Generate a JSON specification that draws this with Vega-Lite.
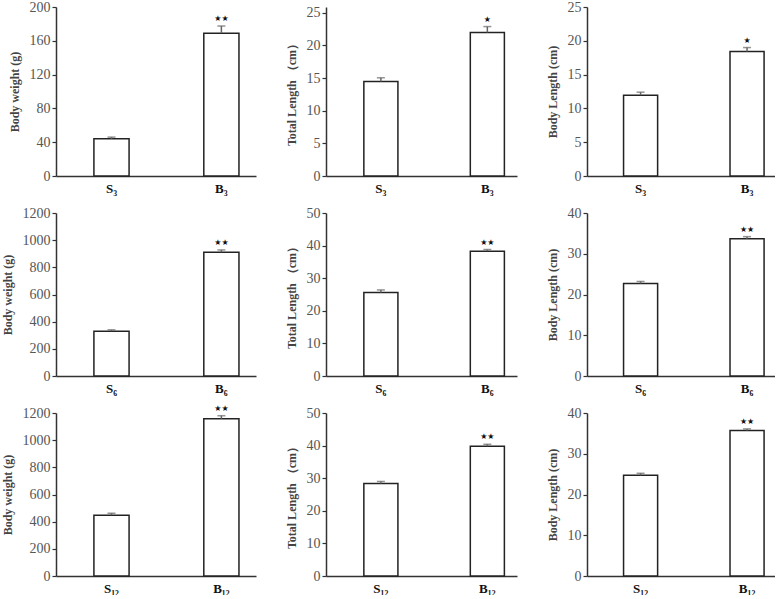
{
  "$schema": "https://vega.github.io/schema/vega-lite/v6.json",
  "padding": {"left": 1, "top": 0, "right": 0, "bottom": 0},
  "background": "white",
  "datasets": {
    "d": [
      {"p": 1, "g": "S₃", "v": 44, "hi": 46, "s": ""},
      {"p": 1, "g": "B₃", "v": 169, "hi": 177.5, "s": "★★"},
      {"p": 2, "g": "S₃", "v": 14.5, "hi": 15.05, "s": ""},
      {"p": 2, "g": "B₃", "v": 22.0, "hi": 22.9, "s": "★"},
      {"p": 3, "g": "S₃", "v": 11.95, "hi": 12.4, "s": ""},
      {"p": 3, "g": "B₃", "v": 18.4, "hi": 19.0, "s": "★"},
      {"p": 4, "g": "S₆", "v": 330, "hi": 340, "s": ""},
      {"p": 4, "g": "B₆", "v": 911, "hi": 928, "s": "★★"},
      {"p": 5, "g": "S₆", "v": 25.6, "hi": 26.4, "s": ""},
      {"p": 5, "g": "B₆", "v": 38.3, "hi": 38.8, "s": "★★"},
      {"p": 6, "g": "S₆", "v": 22.7, "hi": 23.2, "s": ""},
      {"p": 6, "g": "B₆", "v": 33.7, "hi": 34.2, "s": "★★"},
      {"p": 7, "g": "S₁₂", "v": 448, "hi": 462, "s": ""},
      {"p": 7, "g": "B₁₂", "v": 1158, "hi": 1180, "s": "★★"},
      {"p": 8, "g": "S₁₂", "v": 28.4, "hi": 29.0, "s": ""},
      {"p": 8, "g": "B₁₂", "v": 39.8, "hi": 40.4, "s": "★★"},
      {"p": 9, "g": "S₁₂", "v": 24.7, "hi": 25.2, "s": ""},
      {"p": 9, "g": "B₁₂", "v": 35.7, "hi": 36.1, "s": "★★"}
    ]
  },
  "columns": 3,
  "bounds": "flush",
  "spacing": {"row": 37, "column": 70},
  "concat": [
    {
      "width": 200, "height": 169,
      "data": {"name": "d"},
      "transform": [{"filter": "datum.p == 1"}],
      "encoding": {"x": {"field": "g", "type": "nominal", "sort": null, "title": null, "scale": {"paddingInner": 0.68, "paddingOuter": 0.25, "align": 0.69}}},
      "layer": [
        {"mark": {"type": "bar", "fill": "white", "stroke": "#222", "strokeWidth": 1.5}, "encoding": {"y": {"field": "v", "type": "quantitative", "title": "Body weight (g)", "scale": {"domain": [0, 200], "nice": false}, "axis": {"values": [0, 40, 80, 120, 160, 200]}}}},
        {"mark": {"type": "rule", "color": "#666", "strokeWidth": 1.5}, "encoding": {"y": {"field": "v", "type": "quantitative", "title": "Body weight (g)", "axis": {"values": [0, 40, 80, 120, 160, 200]}}, "y2": {"field": "hi"}}},
        {"mark": {"type": "tick", "orient": "horizontal", "size": 8, "thickness": 1.5, "color": "#666"}, "encoding": {"y": {"field": "hi", "type": "quantitative", "title": "Body weight (g)", "axis": {"values": [0, 40, 80, 120, 160, 200]}}}},
        {"mark": {"type": "text", "font": "DejaVu Sans", "fontSize": 8, "baseline": "bottom", "dy": -3, "color": "#111"}, "encoding": {"y": {"field": "hi", "type": "quantitative", "title": "Body weight (g)", "axis": {"values": [0, 40, 80, 120, 160, 200]}}, "text": {"field": "s"}}}
      ]
    },
    {
      "width": 191, "height": 169,
      "data": {"name": "d"},
      "transform": [{"filter": "datum.p == 2"}],
      "encoding": {"x": {"field": "g", "type": "nominal", "sort": null, "title": null, "scale": {"paddingInner": 0.68, "paddingOuter": 0.237, "align": 0.75}}},
      "layer": [
        {"mark": {"type": "bar", "fill": "white", "stroke": "#222", "strokeWidth": 1.5}, "encoding": {"y": {"field": "v", "type": "quantitative", "title": "Total Length （cm）", "scale": {"domain": [0, 25.9], "nice": false}, "axis": {"values": [0, 5, 10, 15, 20, 25]}}}},
        {"mark": {"type": "rule", "color": "#666", "strokeWidth": 1.5}, "encoding": {"y": {"field": "v", "type": "quantitative", "title": "Total Length （cm）", "axis": {"values": [0, 5, 10, 15, 20, 25]}}, "y2": {"field": "hi"}}},
        {"mark": {"type": "tick", "orient": "horizontal", "size": 8, "thickness": 1.5, "color": "#666"}, "encoding": {"y": {"field": "hi", "type": "quantitative", "title": "Total Length （cm）", "axis": {"values": [0, 5, 10, 15, 20, 25]}}}},
        {"mark": {"type": "text", "font": "DejaVu Sans", "fontSize": 8, "baseline": "bottom", "dy": -3, "color": "#111"}, "encoding": {"y": {"field": "hi", "type": "quantitative", "title": "Total Length （cm）", "axis": {"values": [0, 5, 10, 15, 20, 25]}}, "text": {"field": "s"}}}
      ]
    },
    {
      "width": 188, "height": 169,
      "data": {"name": "d"},
      "transform": [{"filter": "datum.p == 3"}],
      "encoding": {"x": {"field": "g", "type": "nominal", "sort": null, "title": null, "scale": {"paddingInner": 0.68, "paddingOuter": 0.223, "align": 0.77}}},
      "layer": [
        {"mark": {"type": "bar", "fill": "white", "stroke": "#222", "strokeWidth": 1.5}, "encoding": {"y": {"field": "v", "type": "quantitative", "title": "Body Length (cm)", "scale": {"domain": [0, 25], "nice": false}, "axis": {"values": [0, 5, 10, 15, 20, 25]}}}},
        {"mark": {"type": "rule", "color": "#666", "strokeWidth": 1.5}, "encoding": {"y": {"field": "v", "type": "quantitative", "title": "Body Length (cm)", "axis": {"values": [0, 5, 10, 15, 20, 25]}}, "y2": {"field": "hi"}}},
        {"mark": {"type": "tick", "orient": "horizontal", "size": 8, "thickness": 1.5, "color": "#666"}, "encoding": {"y": {"field": "hi", "type": "quantitative", "title": "Body Length (cm)", "axis": {"values": [0, 5, 10, 15, 20, 25]}}}},
        {"mark": {"type": "text", "font": "DejaVu Sans", "fontSize": 8, "baseline": "bottom", "dy": -3, "color": "#111"}, "encoding": {"y": {"field": "hi", "type": "quantitative", "title": "Body Length (cm)", "axis": {"values": [0, 5, 10, 15, 20, 25]}}, "text": {"field": "s"}}}
      ]
    },
    {
      "width": 200, "height": 163,
      "data": {"name": "d"},
      "transform": [{"filter": "datum.p == 4"}],
      "encoding": {"x": {"field": "g", "type": "nominal", "sort": null, "title": null, "scale": {"paddingInner": 0.68, "paddingOuter": 0.25, "align": 0.69}}},
      "layer": [
        {"mark": {"type": "bar", "fill": "white", "stroke": "#222", "strokeWidth": 1.5}, "encoding": {"y": {"field": "v", "type": "quantitative", "title": "Body weight (g)", "scale": {"domain": [0, 1200], "nice": false}, "axis": {"values": [0, 200, 400, 600, 800, 1000, 1200]}}}},
        {"mark": {"type": "rule", "color": "#666", "strokeWidth": 1.5}, "encoding": {"y": {"field": "v", "type": "quantitative", "title": "Body weight (g)", "axis": {"values": [0, 200, 400, 600, 800, 1000, 1200]}}, "y2": {"field": "hi"}}},
        {"mark": {"type": "tick", "orient": "horizontal", "size": 8, "thickness": 1.5, "color": "#666"}, "encoding": {"y": {"field": "hi", "type": "quantitative", "title": "Body weight (g)", "axis": {"values": [0, 200, 400, 600, 800, 1000, 1200]}}}},
        {"mark": {"type": "text", "font": "DejaVu Sans", "fontSize": 8, "baseline": "bottom", "dy": -3, "color": "#111"}, "encoding": {"y": {"field": "hi", "type": "quantitative", "title": "Body weight (g)", "axis": {"values": [0, 200, 400, 600, 800, 1000, 1200]}}, "text": {"field": "s"}}}
      ]
    },
    {
      "width": 191, "height": 163,
      "data": {"name": "d"},
      "transform": [{"filter": "datum.p == 5"}],
      "encoding": {"x": {"field": "g", "type": "nominal", "sort": null, "title": null, "scale": {"paddingInner": 0.68, "paddingOuter": 0.237, "align": 0.75}}},
      "layer": [
        {"mark": {"type": "bar", "fill": "white", "stroke": "#222", "strokeWidth": 1.5}, "encoding": {"y": {"field": "v", "type": "quantitative", "title": "Total Length （cm）", "scale": {"domain": [0, 50], "nice": false}, "axis": {"values": [0, 10, 20, 30, 40, 50]}}}},
        {"mark": {"type": "rule", "color": "#666", "strokeWidth": 1.5}, "encoding": {"y": {"field": "v", "type": "quantitative", "title": "Total Length （cm）", "axis": {"values": [0, 10, 20, 30, 40, 50]}}, "y2": {"field": "hi"}}},
        {"mark": {"type": "tick", "orient": "horizontal", "size": 8, "thickness": 1.5, "color": "#666"}, "encoding": {"y": {"field": "hi", "type": "quantitative", "title": "Total Length （cm）", "axis": {"values": [0, 10, 20, 30, 40, 50]}}}},
        {"mark": {"type": "text", "font": "DejaVu Sans", "fontSize": 8, "baseline": "bottom", "dy": -3, "color": "#111"}, "encoding": {"y": {"field": "hi", "type": "quantitative", "title": "Total Length （cm）", "axis": {"values": [0, 10, 20, 30, 40, 50]}}, "text": {"field": "s"}}}
      ]
    },
    {
      "width": 188, "height": 163,
      "data": {"name": "d"},
      "transform": [{"filter": "datum.p == 6"}],
      "encoding": {"x": {"field": "g", "type": "nominal", "sort": null, "title": null, "scale": {"paddingInner": 0.68, "paddingOuter": 0.223, "align": 0.77}}},
      "layer": [
        {"mark": {"type": "bar", "fill": "white", "stroke": "#222", "strokeWidth": 1.5}, "encoding": {"y": {"field": "v", "type": "quantitative", "title": "Body Length (cm)", "scale": {"domain": [0, 40], "nice": false}, "axis": {"values": [0, 10, 20, 30, 40]}}}},
        {"mark": {"type": "rule", "color": "#666", "strokeWidth": 1.5}, "encoding": {"y": {"field": "v", "type": "quantitative", "title": "Body Length (cm)", "axis": {"values": [0, 10, 20, 30, 40]}}, "y2": {"field": "hi"}}},
        {"mark": {"type": "tick", "orient": "horizontal", "size": 8, "thickness": 1.5, "color": "#666"}, "encoding": {"y": {"field": "hi", "type": "quantitative", "title": "Body Length (cm)", "axis": {"values": [0, 10, 20, 30, 40]}}}},
        {"mark": {"type": "text", "font": "DejaVu Sans", "fontSize": 8, "baseline": "bottom", "dy": -3, "color": "#111"}, "encoding": {"y": {"field": "hi", "type": "quantitative", "title": "Body Length (cm)", "axis": {"values": [0, 10, 20, 30, 40]}}, "text": {"field": "s"}}}
      ]
    },
    {
      "width": 200, "height": 163,
      "data": {"name": "d"},
      "transform": [{"filter": "datum.p == 7"}],
      "encoding": {"x": {"field": "g", "type": "nominal", "sort": null, "title": null, "scale": {"paddingInner": 0.68, "paddingOuter": 0.25, "align": 0.69}}},
      "layer": [
        {"mark": {"type": "bar", "fill": "white", "stroke": "#222", "strokeWidth": 1.5}, "encoding": {"y": {"field": "v", "type": "quantitative", "title": "Body weight (g)", "scale": {"domain": [0, 1200], "nice": false}, "axis": {"values": [0, 200, 400, 600, 800, 1000, 1200]}}}},
        {"mark": {"type": "rule", "color": "#666", "strokeWidth": 1.5}, "encoding": {"y": {"field": "v", "type": "quantitative", "title": "Body weight (g)", "axis": {"values": [0, 200, 400, 600, 800, 1000, 1200]}}, "y2": {"field": "hi"}}},
        {"mark": {"type": "tick", "orient": "horizontal", "size": 8, "thickness": 1.5, "color": "#666"}, "encoding": {"y": {"field": "hi", "type": "quantitative", "title": "Body weight (g)", "axis": {"values": [0, 200, 400, 600, 800, 1000, 1200]}}}},
        {"mark": {"type": "text", "font": "DejaVu Sans", "fontSize": 8, "baseline": "bottom", "dy": -3, "color": "#111"}, "encoding": {"y": {"field": "hi", "type": "quantitative", "title": "Body weight (g)", "axis": {"values": [0, 200, 400, 600, 800, 1000, 1200]}}, "text": {"field": "s"}}}
      ]
    },
    {
      "width": 191, "height": 163,
      "data": {"name": "d"},
      "transform": [{"filter": "datum.p == 8"}],
      "encoding": {"x": {"field": "g", "type": "nominal", "sort": null, "title": null, "scale": {"paddingInner": 0.68, "paddingOuter": 0.237, "align": 0.75}}},
      "layer": [
        {"mark": {"type": "bar", "fill": "white", "stroke": "#222", "strokeWidth": 1.5}, "encoding": {"y": {"field": "v", "type": "quantitative", "title": "Total Length （cm）", "scale": {"domain": [0, 50], "nice": false}, "axis": {"values": [0, 10, 20, 30, 40, 50]}}}},
        {"mark": {"type": "rule", "color": "#666", "strokeWidth": 1.5}, "encoding": {"y": {"field": "v", "type": "quantitative", "title": "Total Length （cm）", "axis": {"values": [0, 10, 20, 30, 40, 50]}}, "y2": {"field": "hi"}}},
        {"mark": {"type": "tick", "orient": "horizontal", "size": 8, "thickness": 1.5, "color": "#666"}, "encoding": {"y": {"field": "hi", "type": "quantitative", "title": "Total Length （cm）", "axis": {"values": [0, 10, 20, 30, 40, 50]}}}},
        {"mark": {"type": "text", "font": "DejaVu Sans", "fontSize": 8, "baseline": "bottom", "dy": -3, "color": "#111"}, "encoding": {"y": {"field": "hi", "type": "quantitative", "title": "Total Length （cm）", "axis": {"values": [0, 10, 20, 30, 40, 50]}}, "text": {"field": "s"}}}
      ]
    },
    {
      "width": 188, "height": 163,
      "data": {"name": "d"},
      "transform": [{"filter": "datum.p == 9"}],
      "encoding": {"x": {"field": "g", "type": "nominal", "sort": null, "title": null, "scale": {"paddingInner": 0.68, "paddingOuter": 0.223, "align": 0.77}}},
      "layer": [
        {"mark": {"type": "bar", "fill": "white", "stroke": "#222", "strokeWidth": 1.5}, "encoding": {"y": {"field": "v", "type": "quantitative", "title": "Body Length (cm)", "scale": {"domain": [0, 40], "nice": false}, "axis": {"values": [0, 10, 20, 30, 40]}}}},
        {"mark": {"type": "rule", "color": "#666", "strokeWidth": 1.5}, "encoding": {"y": {"field": "v", "type": "quantitative", "title": "Body Length (cm)", "axis": {"values": [0, 10, 20, 30, 40]}}, "y2": {"field": "hi"}}},
        {"mark": {"type": "tick", "orient": "horizontal", "size": 8, "thickness": 1.5, "color": "#666"}, "encoding": {"y": {"field": "hi", "type": "quantitative", "title": "Body Length (cm)", "axis": {"values": [0, 10, 20, 30, 40]}}}},
        {"mark": {"type": "text", "font": "DejaVu Sans", "fontSize": 8, "baseline": "bottom", "dy": -3, "color": "#111"}, "encoding": {"y": {"field": "hi", "type": "quantitative", "title": "Body Length (cm)", "axis": {"values": [0, 10, 20, 30, 40]}}, "text": {"field": "s"}}}
      ]
    }
  ],
  "config": {
    "font": "Liberation Serif",
    "view": {"stroke": null},
    "axis": {
      "grid": false,
      "domainColor": "#333",
      "domainWidth": 1.5,
      "tickColor": "#333",
      "tickWidth": 1.2,
      "labelFont": "Liberation Serif",
      "labelFontSize": 14,
      "labelColor": "#555",
      "titleFont": "Liberation Serif",
      "titleFontSize": 12,
      "titleFontWeight": "bold",
      "titleColor": "#444"
    },
    "axisX": {"ticks": false, "labelAngle": 0, "labelFontWeight": "bold", "labelColor": "#111", "labelFontSize": 13, "labelPadding": 6},
    "axisY": {"tickSize": 4, "labelPadding": 2, "titlePadding": 8, "format": "d", "labelOverlap": false, "labelBound": false}
  }
}
